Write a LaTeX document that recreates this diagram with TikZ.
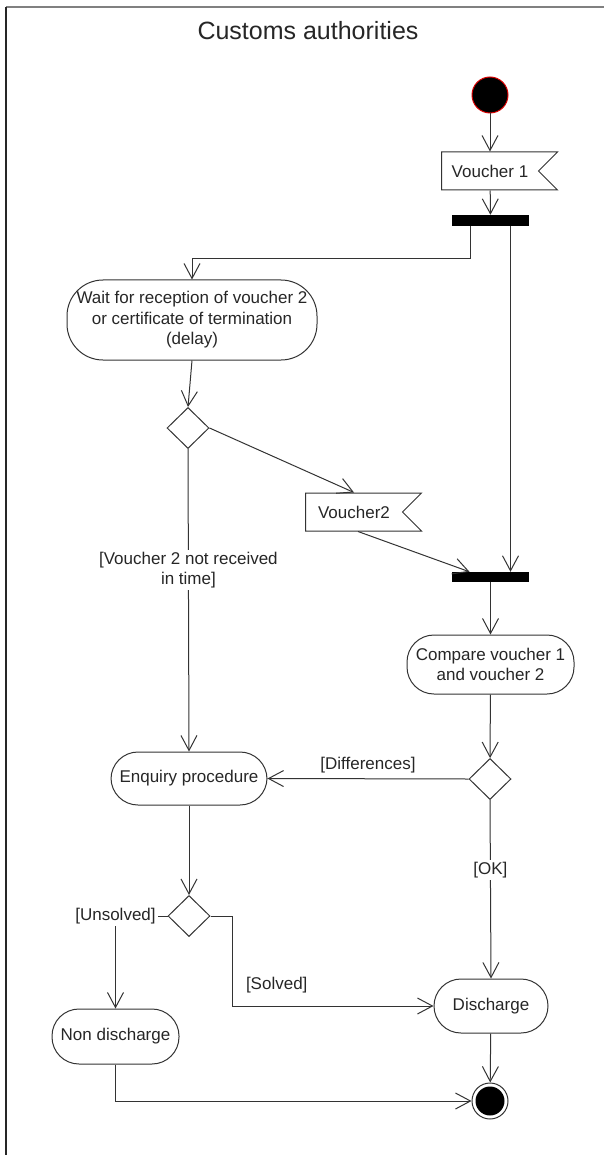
\documentclass[tikz,border=0pt]{standalone}
\usepackage{fontspec}
\setmainfont{Liberation Sans}
\usepackage{tikz}
\usetikzlibrary{arrows.meta}
\usetikzlibrary{positioning,calc,shapes.geometric,shapes.symbols}

\begin{document}
\begin{tikzpicture}[
		x=1pt, y=-1pt,
		every node/.style={font=\fontsize{17}{20.5}\selectfont, text=black!85},
		FlowLine/.style={draw=black!80, line width=1pt, -{Straight Barb[length=15pt, width=16pt]}},
		ActionBox/.style={draw=black!80, line width=1pt, rectangle, rounded corners=27pt, align=center, inner sep=0pt},
		DecisionNode/.style={draw=black!80, line width=1pt, diamond, minimum width=42pt, minimum height=41pt, inner sep=0pt},
		ForkBar/.style={fill=black, rectangle, minimum width=77pt, minimum height=11pt, inner sep=0pt},
		SignalBox/.style={draw=black!80, line width=1pt, signal, signal to=nowhere, signal from=east, signal pointer angle=90, minimum width=116pt, minimum height=38pt, inner sep=0pt},
		GuardLabel/.style={fill=white, inner sep=2pt, align=center}
		]
		\useasboundingbox (0,0) rectangle (604,1155);
		
		% frame of the swimlane
		\draw[gray, line width=2pt] (6,7) -- (604,7);
		\draw[black!85, line width=1.2pt] (6,7) -- (6,1155);
		\node (title) at (308,31) {\fontsize{25}{28}\selectfont Customs authorities};
		
		\node[circle, fill=black, draw=red!85!black, line width=1pt, minimum size=36pt, inner sep=0pt] (start) at (490,95) {};
		\node[SignalBox] (v1) at (490,171) {Voucher 1\hspace{12pt}};
		\node[ForkBar] (fork1) at (490.5,220.5) {};
		\node[ActionBox, rounded corners=36pt, minimum width=250pt, minimum height=80pt] (wait) at (192,320) {Wait for reception of voucher 2\\or certificate of termination\\(delay)};
		\node[DecisionNode] (dec1) at (188,428) {};
		\node[SignalBox] (v2) at (354,512) {Voucher2\hspace{8pt}};
		\node[ForkBar, minimum height=10pt] (fork2) at (490.5,577) {};
		\node[ActionBox, minimum width=167pt, minimum height=59pt] (cmp) at (490.5,664.5) {Compare voucher 1\\and voucher 2};
		\node[DecisionNode] (dec2) at (490,779) {};
		\node[ActionBox, minimum width=156pt, minimum height=53pt] (enq) at (189,778.5) {Enquiry procedure};
		\node[DecisionNode] (dec3) at (189,916) {};
		\node[ActionBox, minimum width=114pt, minimum height=54pt] (dis) at (491,1006) {Discharge};
		\node[ActionBox, minimum width=127pt, minimum height=55pt] (non) at (115.5,1036.5) {Non discharge};
		\node[circle, draw=black!80, line width=1pt, minimum size=36pt, inner sep=0pt,
			path picture={\fill (path picture bounding box.center) circle (14.5pt);}] (end) at (490,1101) {};
		
		% flows
		\draw[FlowLine] (start) -- (v1);
		\draw[FlowLine] (v1) -- (fork1);
		\draw[FlowLine] ([xshift=-20pt]fork1.south) -- ++(0,32) -| (wait.north);
		\draw[FlowLine] ([xshift=20pt]fork1.south) -- ([xshift=20pt]fork2.north);
		\draw[FlowLine] (wait.south) -- (dec1.north);
		\draw[FlowLine] (dec1.east) -- (v2.north);
		\draw[FlowLine] ([xshift=4pt]v2.south) -- ([xshift=-21pt]fork2.north);
		\draw[FlowLine] (dec1.south) -- node[pos=0.40, GuardLabel] {[Voucher 2 not received\\in time]} (enq.north);
		\draw[FlowLine] (fork2) -- (cmp);
		\draw[FlowLine] (cmp) -- (dec2);
		\draw[FlowLine] (dec2.west) -- node[midway, above=2pt] {[Differences]} (enq.east);
		\draw[FlowLine] (dec2.south) -- node[pos=0.39, GuardLabel] {[OK]} (dis.north);
		\draw[FlowLine] (enq.south) -- (dec3.north);
		\draw[FlowLine] (dec3.west) -| node[pos=0.5, GuardLabel] {[Unsolved]} (non.north);
		\draw[FlowLine] (dec3.east) -- ++(22,0) |- node[pos=0.61, above=9pt] {[Solved]} (dis.west);
		\draw[FlowLine] (dis) -- (end);
		\draw[FlowLine] (non.south) |- (end.west);
		
\end{tikzpicture}
\end{document}
